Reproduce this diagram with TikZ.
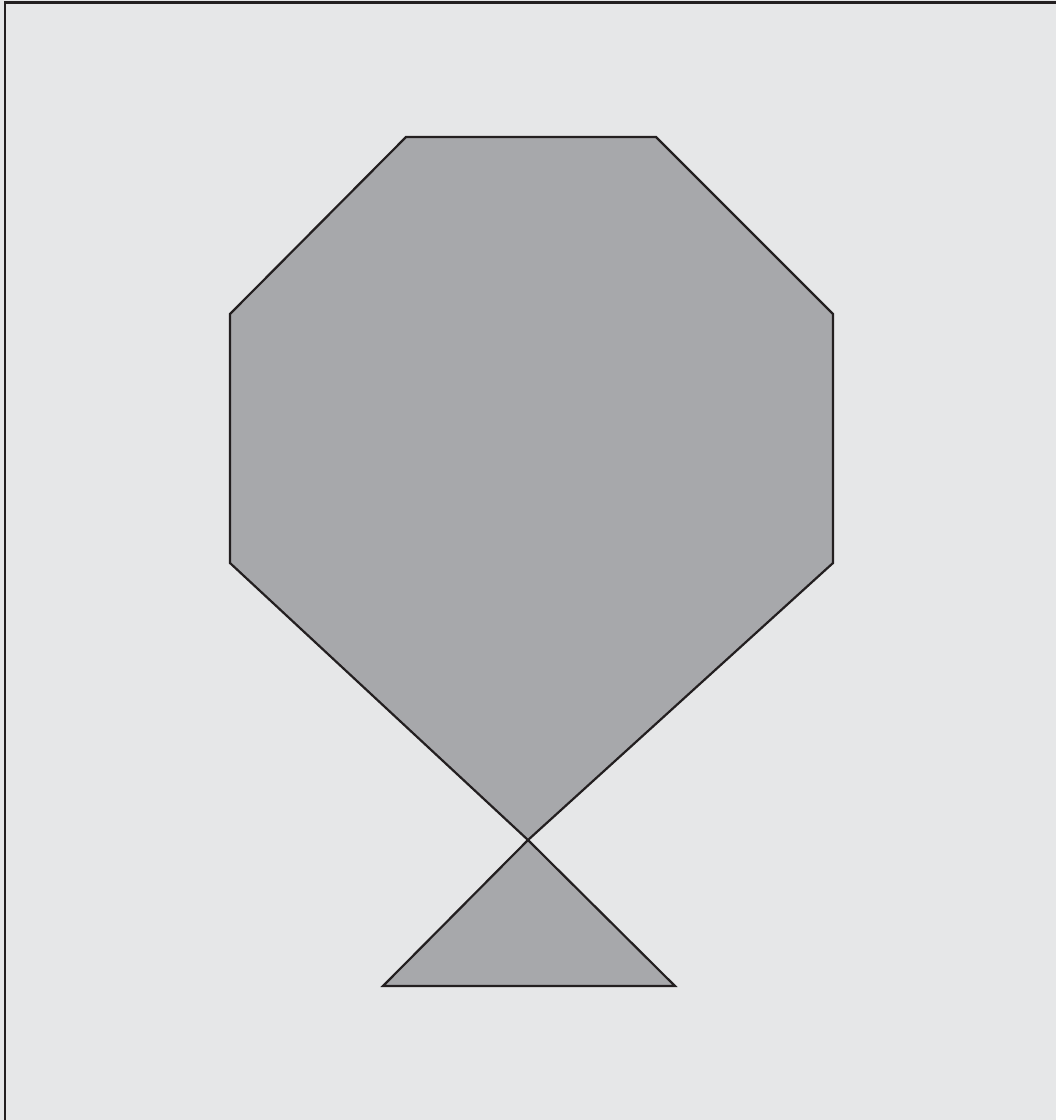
\documentclass[tikz,border=0pt]{standalone}
\definecolor{bg}{HTML}{E6E7E8}
\definecolor{shape}{HTML}{A7A8AB}
\definecolor{ink}{HTML}{231F20}
\begin{document}
\begin{tikzpicture}[x=1pt,y=-1pt,line join=miter]
\useasboundingbox (0,0) rectangle (1056,1120);
\fill[bg] (0,0) rectangle (1056,1120);
\draw[ink,line width=2.8pt] (5,1120) -- (5,2.5) -- (1056,2.5);
\coordinate (a) at (406,137);
\coordinate (b) at (656,137);
\coordinate (c) at (833,314);
\coordinate (d) at (833,563);
\coordinate (x) at (528,840);
\coordinate (e) at (675,986);
\coordinate (f) at (383,986);
\coordinate (g) at (230,563);
\coordinate (h) at (230,314);
\filldraw[fill=shape,draw=ink,line width=2.2pt,even odd rule]
  (a) -- (b) -- (c) -- (d) -- (x) -- (f) -- (e) -- (x) -- (g) -- (h) -- cycle;
\end{tikzpicture}
\end{document}
